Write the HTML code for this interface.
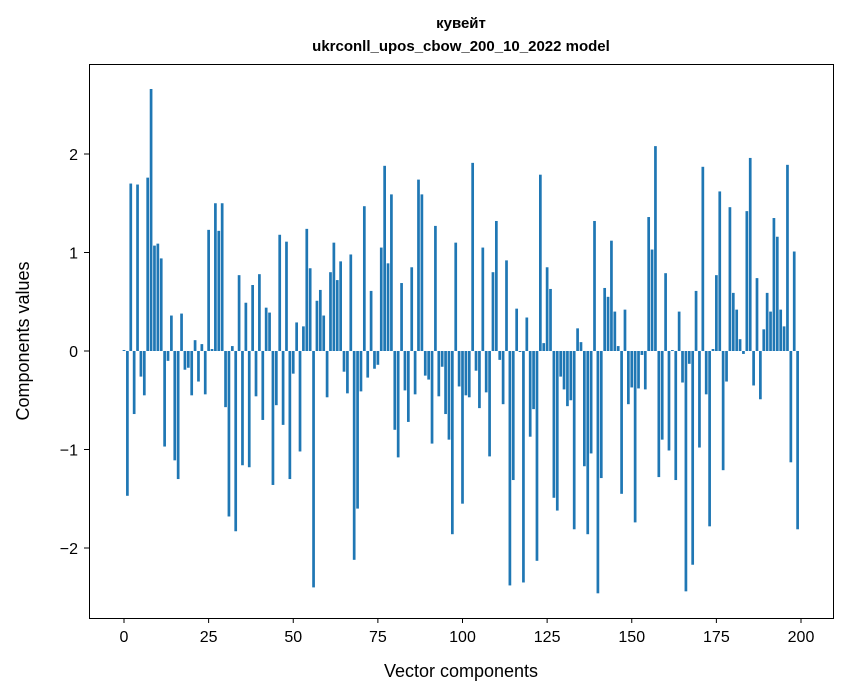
<!DOCTYPE html>
<html><head><meta charset="utf-8"><style>
body{margin:0;background:#fff;}
svg{display:block;font-family:"Liberation Sans","DejaVu Sans",sans-serif;}
</style></head><body>
<svg id="chart" width="847" height="696" viewBox="0 0 847 696">
<rect width="847" height="696" fill="#fff"/>
<text x="461" y="28" text-anchor="middle" font-size="15" font-weight="bold">кувейт</text>
<text x="461" y="51" text-anchor="middle" font-size="15" font-weight="bold">ukrconll_upos_cbow_200_10_2022 model</text>
<g id="bars"></g>
<g id="xticks"></g>
<g id="yticks"></g>
<rect x="89.5" y="64.5" width="744" height="554" fill="none" stroke="#000" stroke-width="1"/>
<text x="461" y="677" text-anchor="middle" font-size="18">Vector components</text>
<text transform="translate(29,341) rotate(-90)" text-anchor="middle" font-size="18">Components values</text>
</svg>
<script>
const values = [0.01,-1.47,1.70,-0.64,1.69,-0.26,-0.45,1.76,2.66,1.07,1.09,0.94,-0.97,-0.10,0.36,-1.11,-1.30,0.38,-0.19,-0.17,
-0.45,0.11,-0.31,0.07,-0.44,1.23,0.02,1.50,1.22,1.50,-0.57,-1.68,0.05,-1.83,0.77,-1.16,0.49,-1.18,0.67,-0.46,
0.78,-0.70,0.44,0.39,-1.36,-0.55,1.18,-0.75,1.11,-1.30,-0.23,0.29,-1.02,0.25,1.24,0.84,-2.40,0.51,0.62,0.36,
-0.47,0.80,1.10,0.72,0.91,-0.21,-0.43,0.98,-2.12,-1.60,-0.41,1.47,-0.27,0.61,-0.18,-0.14,1.05,1.88,0.89,1.59,
-0.80,-1.08,0.69,-0.40,-0.72,0.85,-0.44,1.74,1.59,-0.25,-0.29,-0.94,1.27,-0.46,-0.16,-0.64,-0.90,-1.86,1.10,-0.36,
-1.55,-0.45,-0.47,1.91,-0.20,-0.58,1.05,-0.42,-1.07,0.80,1.32,-0.09,-0.54,0.92,-2.38,-1.31,0.43,-0.01,-2.35,0.34,
-0.87,-0.59,-2.13,1.79,0.08,0.85,0.63,-1.49,-1.62,-0.26,-0.39,-0.56,-0.50,-1.81,0.23,0.09,-1.17,-1.86,-1.04,1.32,
-2.46,-1.29,0.64,0.55,1.12,0.40,0.05,-1.45,0.42,-0.54,-0.37,-1.74,-0.38,-0.04,-0.39,1.36,1.03,2.08,-1.28,-0.90,
0.79,-1.01,0.01,-1.31,0.40,-0.32,-2.44,-0.13,-2.17,0.61,-0.98,1.87,-0.44,-1.78,0.02,0.77,1.62,-1.21,-0.31,1.46,
0.59,0.42,0.12,-0.03,1.42,1.96,-0.35,0.74,-0.49,0.22,0.59,0.40,1.35,1.16,0.42,0.25,1.89,-1.13,1.01,-1.81];
const xTicks = [0,25,50,75,100,125,150,175,200];
const yTicks = [-2,-1,0,1,2];
const yTickLabels = ["\u22122","\u22121","0","1","2"];

const NS="http://www.w3.org/2000/svg";
function xs(i){return 124+i*3.385;}
function ys(v){return 351-v*98.5;}
const bw=3.385*0.8;
const gb=document.getElementById('bars');
values.forEach((v,i)=>{
  const r=document.createElementNS(NS,'rect');
  r.setAttribute('x',xs(i)-bw/2);
  r.setAttribute('y',Math.min(ys(v),ys(0)));
  r.setAttribute('width',bw);
  r.setAttribute('height',Math.abs(ys(v)-ys(0)));
  r.setAttribute('fill','#1f77b4');
  
  
  gb.appendChild(r);
});
const gx=document.getElementById('xticks');
xTicks.forEach(t=>{
  const l=document.createElementNS(NS,'line');
  l.setAttribute('x1',xs(t));l.setAttribute('x2',xs(t));
  l.setAttribute('y1',618);l.setAttribute('y2',623);
  l.setAttribute('stroke','#000');
  
  
  gx.appendChild(l);
  const tx=document.createElementNS(NS,'text');
  tx.setAttribute('x',xs(t));tx.setAttribute('y',642);
  tx.setAttribute('text-anchor','middle');tx.setAttribute('font-size','16');
  tx.textContent=t;
  
  
  gx.appendChild(tx);
});
const gy=document.getElementById('yticks');
yTicks.forEach((t,k)=>{
  const l=document.createElementNS(NS,'line');
  l.setAttribute('x1',84);l.setAttribute('x2',89);
  l.setAttribute('y1',ys(t));l.setAttribute('y2',ys(t));
  l.setAttribute('stroke','#000');
  
  
  gy.appendChild(l);
  const tx=document.createElementNS(NS,'text');
  tx.setAttribute('x',78);tx.setAttribute('y',ys(t)+6);
  tx.setAttribute('text-anchor','end');tx.setAttribute('font-size','16');
  tx.textContent=yTickLabels[k];
  
  
  gy.appendChild(tx);
});
</script>
</body></html>
